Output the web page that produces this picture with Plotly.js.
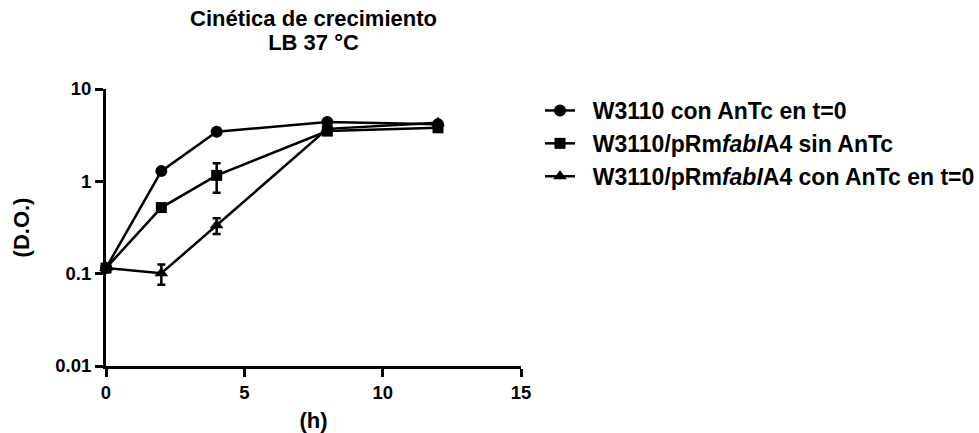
<!DOCTYPE html>
<html>
<head>
<meta charset="utf-8">
<script src="https://cdn.plot.ly/plotly-3.0.1.min.js"></script>
<style>html,body{margin:0;padding:0;background:#fff;}#chart{width:979px;height:433px;}</style>
</head>
<body>
<div id="chart"></div>
<script>
const timeH = [0, 2, 4, 8, 12];
const names = [
  "W3110 con AnTc en t=0",
  "W3110/pRm<i>fabI</i>A4 sin AnTc",
  "W3110/pRm<i>fabI</i>A4 con AnTc en t=0"
];
const circleVals = [0.115, 1.29, 3.45, 4.4, 4.15];
const circleErr = [0, 0, 0, 0, 0];
const squareVals = [0.115, 0.52, 1.16, 3.5, 3.8];
const squareErr = [0, 0, 0.41, 0, 0];
const triangleVals = [0.115, 0.101, 0.334, 3.7, 4.3];
const triangleErr = [0, 0.025, 0.065, 0, 0];
const yTickVals = [0.01, 0.1, 1, 10];
const yTickText = ["0.01", "0.1", "1", "10"];
const xTickVals = [0, 5, 10, 15];

const F = "Liberation Sans, Arial, sans-serif";
function tr(y, err, name, symbol, size) {
  return {
    x: timeH, y: y, name: "\u00a0\u00a0" + name, type: 'scatter', mode: 'lines+markers',
    line: {color: '#000', width: 2.5},
    marker: {symbol: symbol, size: size, color: '#000'},
    error_y: {type: 'data', array: err, visible: true, color: '#000', thickness: 2.5, width: 4},
    cliponaxis: false
  };
}
const data = [
  tr(circleVals, circleErr, names[0], 'circle', 12),
  tr(squareVals, squareErr, names[1], 'square', 11),
  tr(triangleVals, triangleErr, names[2], 'triangle-up', 12)
];
const layout = {
  width: 979, height: 433,
  margin: {l: 106, r: 458, t: 89, b: 67, autoexpand: false},
  paper_bgcolor: '#fff', plot_bgcolor: '#fff',
  font: {family: F, color: '#000', size: 18.5, weight: 'bold'},
  title: {text: "<b><span style='font-size:22px'>Cinética de crecimiento</span><br><span style='font-size:22px'>LB 37 °C</span></b>",
    x: 0.5, xref: 'paper', y: 0.94, yanchor: 'top', yref: 'container',
    font: {family: F, size: 18.5, color: '#000'}},
  xaxis: {range: [0, 15], tickvals: xTickVals, ticktext: xTickVals.map(String), showgrid: false, zeroline: false,
    showline: true, linecolor: '#000', linewidth: 3, ticks: 'outside', ticklen: 8, tickwidth: 3, tickcolor: '#000',
    tickfont: {family: F, size: 18.5, weight: 'bold'}, automargin: false,
    title: {text: "<b>(h)</b>", font: {family: F, size: 22}, standoff: 11}},
  yaxis: {type: 'log', range: [-2, 1], tickvals: yTickVals, ticktext: yTickText, showgrid: false, zeroline: false,
    showline: true, linecolor: '#000', linewidth: 3, ticks: 'outside', ticklen: 8, tickwidth: 3, tickcolor: '#000',
    tickfont: {family: F, size: 18.5, weight: 'bold'}, automargin: false,
    title: {text: "<b>(D.O.)</b>", font: {family: F, size: 22}, standoff: 20}},
  legend: {x: 1.0458, xanchor: 'left', y: 1.0, yanchor: 'top', font: {family: F, size: 23, weight: 'bold'},
    tracegroupgap: 0, itemwidth: 30, bgcolor: 'rgba(0,0,0,0)'},
  showlegend: true
};
Plotly.newPlot('chart', data, layout, {displayModeBar: false, staticPlot: true});
</script>
</body>
</html>
